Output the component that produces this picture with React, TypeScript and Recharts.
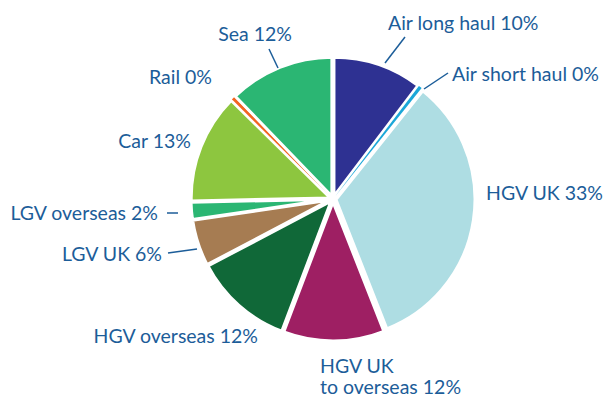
import { PieChart, Pie, Cell, Sector } from "recharts";

const categories = [
  "Air long haul",
  "Air short haul",
  "HGV UK",
  "HGV UK to overseas",
  "HGV overseas",
  "LGV UK",
  "LGV overseas",
  "Car",
  "Rail",
  "Sea",
];
// share of each slice as drawn (the 0% slices are tiny but visible)
const shares = [10.4, 0.4, 33.5, 11.8, 11.6, 5.4, 2.0, 12.8, 0.4, 12.3];
// rounded percentages as printed in the labels
const printed = [10, 0, 33, 12, 12, 6, 2, 13, 0, 12];
const colors = [
  "#2e3192",
  "#1ba7d8",
  "#aedde3",
  "#9e1f63",
  "#106838",
  "#a67c52",
  "#2bb673",
  "#8dc63f",
  "#f26522",
  "#2bb673",
];

const data = categories.map((name, i) => ({
  name,
  value: shares[i],
  pct: printed[i],
}));

const TEXT = "#1c5d99";
const EXPLODE = 3;
const RAD = Math.PI / 180;

// label placement relative to pie centre: [dx, dy, anchor], optional leader [x1, y1, x2, y2]
const labelLayout: {
  dx: number;
  dy: number;
  anchor: "start" | "end";
  lines?: string[];
  leader?: number[];
}[] = [
  { dx: 55, dy: -177, anchor: "start", leader: [52, -136, 72, -162] },
  { dx: 119, dy: -126, anchor: "start", leader: [91, -110, 115, -126] },
  { dx: 153, dy: -7, anchor: "start" },
  { dx: -13, dy: 166, anchor: "start", lines: ["HGV UK", "to overseas"] },
  { dx: -75, dy: 136, anchor: "end" },
  { dx: -171, dy: 54, anchor: "end", leader: [-165, 54, -136, 50] },
  { dx: -175, dy: 13, anchor: "end", leader: [-166, 14, -155, 14] },
  { dx: -142, dy: -59, anchor: "end" },
  { dx: -121, dy: -123, anchor: "end" },
  { dx: -41, dy: -166, anchor: "end", leader: [-64, -150, -55, -131] },
];

function ExplodedSector(props: any) {
  const { cx, cy, midAngle } = props;
  const ox = EXPLODE * Math.cos(-midAngle * RAD);
  const oy = EXPLODE * Math.sin(-midAngle * RAD);
  return <Sector {...props} cx={cx + ox} cy={cy + oy} />;
}

function renderLabel(props: any) {
  const { cx, cy, index } = props;
  const item = data[index];
  const l = labelLayout[index];
  const x = cx + l.dx;
  const y = cy + l.dy;
  const textLines = l.lines
    ? [l.lines[0], `${l.lines[1]} ${item.pct}%`]
    : [`${item.name} ${item.pct}%`];
  return (
    <g key={`lbl-${index}`}>
      {l.leader && (
        <line
          x1={cx + l.leader[0]}
          y1={cy + l.leader[1]}
          x2={cx + l.leader[2]}
          y2={cy + l.leader[3]}
          stroke={TEXT}
          strokeWidth={1.5}
        />
      )}
      {textLines.map((t, k) => (
        <text
          key={k}
          x={x}
          y={y + k * 21}
          fill={TEXT}
          textAnchor={l.anchor}
          dominantBaseline="central"
          fontFamily="Lato, sans-serif"
          fontSize={19.5}
        >
          {t}
        </text>
      ))}
    </g>
  );
}

export default function App() {
  return (
    <div style={{ position: "absolute", left: 0, top: 0, background: "#fff" }}>
      <PieChart width={606} height={400} margin={{ top: 0, right: 0, bottom: 0, left: 0 }}>
        <Pie
          data={data}
          dataKey="value"
          nameKey="name"
          cx={333}
          cy={199}
          outerRadius={139}
          startAngle={90}
          endAngle={-270}
          stroke="#fff"
          strokeWidth={3}
          shape={ExplodedSector}
          label={renderLabel}
          labelLine={false}
          isAnimationActive={false}
        >
          {data.map((d, i) => (
            <Cell key={d.name} fill={colors[i]} stroke={d.pct === 0 ? "none" : "#fff"} />
          ))}
        </Pie>
      </PieChart>
    </div>
  );
}
